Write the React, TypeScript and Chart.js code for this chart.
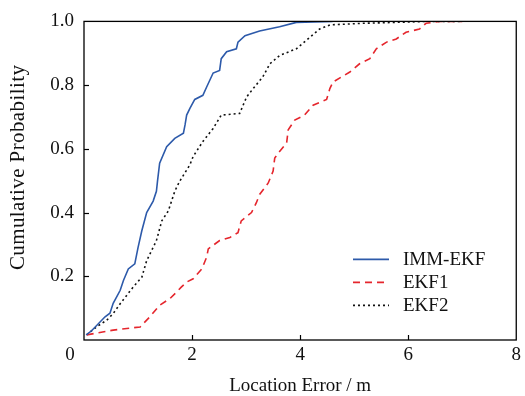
import React, { useEffect, useRef } from "react";
import { Chart, registerables } from "chart.js";

Chart.register(...registerables);

const FONT = '"Liberation Serif", "Times New Roman", serif';

const xTickValues = [0, 2, 4, 6, 8];
const yTickValues = [0, 0.2, 0.4, 0.6, 0.8, 1.0];

const seriesNames = ["IMM-EKF", "EKF1", "EKF2"];
const yAxisTitle = "Cumulative Probability";
const xAxisTitle = "Location Error / m";

const immX = [0.04, 0.14, 0.39, 0.48, 0.54, 0.67, 0.73, 0.82, 0.94, 1.0, 1.07, 1.16, 1.28, 1.34, 1.36, 1.40, 1.53, 1.68, 1.84, 1.87, 1.90, 1.96, 2.05, 2.20, 2.27, 2.39, 2.51, 2.54, 2.64, 2.82, 2.85, 2.98, 3.25, 3.62, 3.93, 4.6];
const immY = [0.016, 0.029, 0.073, 0.084, 0.115, 0.156, 0.187, 0.223, 0.239, 0.29, 0.343, 0.40, 0.436, 0.467, 0.498, 0.555, 0.607, 0.633, 0.649, 0.675, 0.706, 0.727, 0.755, 0.768, 0.794, 0.838, 0.846, 0.883, 0.905, 0.914, 0.935, 0.955, 0.97, 0.983, 0.997, 1.0];

const ekf1X = [0.05, 0.54, 1.04, 1.22, 1.40, 1.59, 1.71, 1.80, 1.90, 2.02, 2.18, 2.27, 2.30, 2.51, 2.70, 2.85, 2.91, 3.10, 3.19, 3.25, 3.41, 3.50, 3.53, 3.62, 3.75, 3.78, 3.90, 4.08, 4.24, 4.49, 4.55, 4.61, 4.92, 5.10, 5.29, 5.41, 5.60, 5.78, 5.96, 6.21, 6.33, 6.58, 7.0];
const ekf1Y = [0.016, 0.031, 0.041, 0.073, 0.109, 0.13, 0.15, 0.166, 0.182, 0.192, 0.223, 0.26, 0.286, 0.312, 0.322, 0.337, 0.374, 0.40, 0.431, 0.457, 0.493, 0.53, 0.571, 0.592, 0.618, 0.66, 0.69, 0.706, 0.737, 0.755, 0.789, 0.81, 0.841, 0.867, 0.883, 0.914, 0.935, 0.945, 0.966, 0.976, 0.994, 1.0, 1.0];

const ekf2X = [0.05, 0.23, 0.42, 0.54, 0.67, 0.79, 0.91, 1.07, 1.16, 1.34, 1.44, 1.56, 1.68, 1.77, 1.96, 2.02, 2.2, 2.39, 2.54, 2.88, 3.01, 3.13, 3.31, 3.44, 3.62, 3.93, 4.11, 4.36, 4.55, 5.16, 5.78, 6.33, 7.0];
const ekf2Y = [0.016, 0.041, 0.062, 0.083, 0.114, 0.14, 0.166, 0.197, 0.249, 0.312, 0.374, 0.405, 0.467, 0.498, 0.55, 0.576, 0.623, 0.664, 0.706, 0.711, 0.763, 0.789, 0.826, 0.867, 0.893, 0.914, 0.94, 0.976, 0.989, 0.994, 0.997, 1.0, 1.0];

const colors = ["#2d5aaa", "#e5262d", "#111111"];
const dashes: number[][] = [[], [7, 5], [2, 3]];

export default function App() {
  const ref = useRef<HTMLCanvasElement>(null);

  useEffect(() => {
    const canvas = ref.current;
    if (!canvas) return;
    const toPts = (xs: number[], ys: number[]) => xs.map((x, i) => ({ x, y: ys[i] }));

    const decor = {
      id: "decor",
      afterDraw(chart: any) {
        const { ctx, chartArea: a, scales } = chart;
        ctx.save();
        ctx.setLineDash([]);
        ctx.strokeStyle = "#000";
        ctx.lineWidth = 1.3;
        ctx.strokeRect(a.left, a.top, a.right - a.left, a.bottom - a.top);
        ctx.lineWidth = 1.2;
        xTickValues.forEach((v) => {
          if (v === xTickValues[0] || v === xTickValues[xTickValues.length - 1]) return;
          const px = Math.round(scales.x.getPixelForValue(v)) + 0.5;
          ctx.beginPath();
          ctx.moveTo(px, a.bottom);
          ctx.lineTo(px, a.bottom - 5);
          ctx.stroke();
        });
        yTickValues.forEach((v) => {
          if (v === yTickValues[0] || v === yTickValues[yTickValues.length - 1]) return;
          const py = Math.round(scales.y.getPixelForValue(v)) + 0.5;
          ctx.beginPath();
          ctx.moveTo(a.left, py);
          ctx.lineTo(a.left + 5, py);
          ctx.stroke();
        });
        ctx.fillStyle = "#111";
        ctx.font = `19px ${FONT}`;
        ctx.textAlign = "center";
        ctx.textBaseline = "middle";
        // shared origin label
        ctx.fillText("0", a.left - 14, a.bottom + 15);
        // y axis title
        ctx.save();
        ctx.font = `21px ${FONT}`;
        ctx.translate(18, a.top + 146);
        ctx.rotate(-Math.PI / 2);
        try { (ctx as any).letterSpacing = "0.4px"; } catch (e) {}
        ctx.fillText(yAxisTitle, 0, 0);
        ctx.restore();
        // legend
        const lx0 = a.left + 269;
        const ly0 = a.top + 238;
        const rowH = 23;
        ctx.textAlign = "left";
        seriesNames.forEach((name, i) => {
          const y = ly0 + i * rowH;
          ctx.strokeStyle = colors[i];
          ctx.lineWidth = 1.6;
          ctx.setLineDash(dashes[i]);
          ctx.beginPath();
          ctx.moveTo(lx0, y);
          ctx.lineTo(lx0 + 36, y);
          ctx.stroke();
          ctx.setLineDash([]);
          ctx.fillStyle = "#111";
          ctx.fillText(name, lx0 + 50, y + 1);
        });
        ctx.restore();
      },
    };

    const chart = new Chart(canvas, {
      type: "line",
      data: {
        datasets: [
          { label: seriesNames[0], data: toPts(immX, immY), borderColor: colors[0], borderWidth: 1.6, borderDash: dashes[0], pointRadius: 0, tension: 0, fill: false },
          { label: seriesNames[1], data: toPts(ekf1X, ekf1Y), borderColor: colors[1], borderWidth: 1.6, borderDash: dashes[1], pointRadius: 0, tension: 0, fill: false },
          { label: seriesNames[2], data: toPts(ekf2X, ekf2Y), borderColor: colors[2], borderWidth: 1.6, borderDash: dashes[2], pointRadius: 0, tension: 0, fill: false },
        ],
      },
      options: {
        animation: false,
        responsive: true,
        maintainAspectRatio: false,
        layout: { padding: { top: 19, right: 7, left: 0, bottom: 0 } },
        plugins: { legend: { display: false }, tooltip: { enabled: false } },
        scales: {
          x: {
            type: "linear",
            min: 0,
            max: 8,
            afterFit: (s: any) => { s.height = 56; },
            afterBuildTicks: (s: any) => { s.ticks = xTickValues.map((v) => ({ value: v })); },
            grid: { display: false, drawTicks: false },
            border: { display: false },
            ticks: {
              padding: 4,
              color: "#111",
              font: { family: FONT, size: 19, lineHeight: 1.2 },
              callback: (v: any) => (v === 0 ? "" : String(v)),
              maxRotation: 0,
            },
            title: {
              display: true,
              text: xAxisTitle,
              color: "#111",
              font: { family: FONT, size: 19, lineHeight: 1 },
              padding: { top: 0, bottom: 0 },
            },
          },
          y: {
            type: "linear",
            min: 0,
            max: 1,
            afterFit: (s: any) => { s.width = 84; },
            afterBuildTicks: (s: any) => { s.ticks = yTickValues.map((v) => ({ value: v })); },
            grid: { display: false, drawTicks: false },
            border: { display: false },
            ticks: {
              padding: 10,
              color: "#111",
              font: { family: FONT, size: 19, lineHeight: 1.2 },
              callback: (v: any) => (v === 0 ? "" : Number(v).toFixed(1)),
            },
            title: { display: false },
          },
        },
      },
      plugins: [decor],
    });
    return () => chart.destroy();
  }, []);

  return (
    <div style={{ position: "fixed", left: 0, top: 0, width: 525, height: 396, background: "#fff" }}>
      <canvas ref={ref} />
    </div>
  );
}
